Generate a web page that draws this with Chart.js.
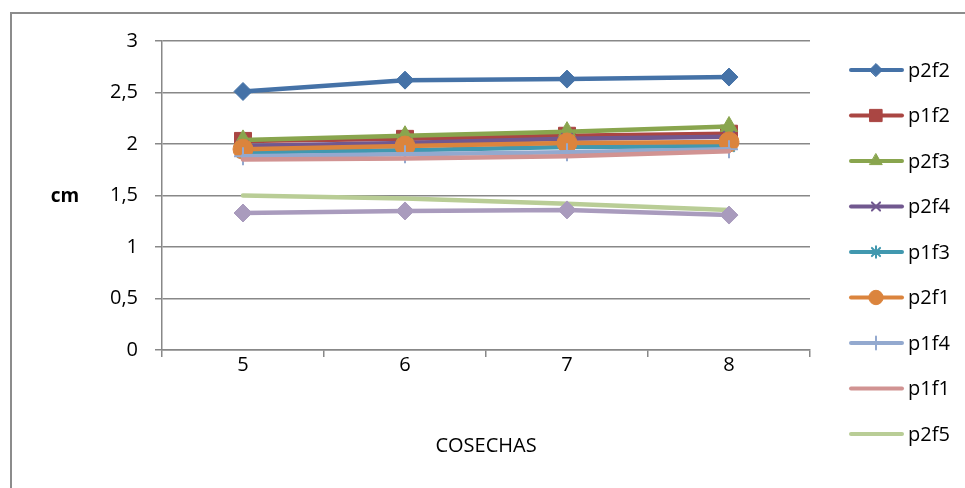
<!DOCTYPE html>
<html>
<head>
<meta charset="utf-8">
<script src="https://cdn.jsdelivr.net/npm/chart.js@4.4.0/dist/chart.umd.min.js"></script>
<style>
html, body { margin: 0; padding: 0; background: #fff; overflow: hidden; }
#frame { position: absolute; left: 10px; top: 12px; width: 2000px; height: 2000px; border-left: 2px solid #8c8c8c; border-top: 2px solid #8c8c8c; }
#wrap { position: absolute; left: 0; top: 0; width: 965px; height: 488px; }
</style>
</head>
<body>
<div id="frame"></div>
<div id="wrap"><canvas id="chart" width="965" height="488"></canvas></div>
<script>
var cosechas = ['5', '6', '7', '8'];
var yTickLabels = ['0', '0,5', '1', '1,5', '2', '2,5', '3'];

var p2f2 = [2.51, 2.62, 2.63, 2.65];
var p1f2 = [2.03, 2.05, 2.08, 2.10];
var p2f3 = [2.04, 2.08, 2.12, 2.17];
var p2f4 = [1.98, 2.01, 2.05, 2.07];
var p1f3 = [1.92, 1.94, 1.97, 1.98];
var p2f1 = [1.95, 1.98, 2.01, 2.02];
var p1f4 = [1.88, 1.90, 1.92, 1.95];
var p1f1 = [1.85, 1.86, 1.88, 1.93];
var p2f5 = [1.50, 1.47, 1.42, 1.36];
var p1f5 = [1.33, 1.35, 1.36, 1.31];

var fontFamily = '"Open Sans", Lato, sans-serif';
var gridColor = '#888888';

function serie(label, data, color, style, radius, pbw) {
    return {
        label: label,
        data: data,
        borderColor: color,
        backgroundColor: color,
        pointBackgroundColor: color,
        pointBorderColor: color,
        borderWidth: 4.5,
        pointStyle: style,
        pointRadius: radius,
        pointHoverRadius: radius,
        pointBorderWidth: pbw,
        borderCapStyle: 'round',
        borderJoinStyle: 'round',
        tension: 0,
        fill: false
    };
}

var datasets = [
    serie('p2f2', p2f2, '#4572A7', 'rectRot', 9, 1),
    serie('p1f2', p1f2, '#AA4643', 'rect', 12, 1),
    serie('p2f3', p2f3, '#89A54E', 'triangle', 10, 1),
    serie('p2f4', p2f4, '#71588F', 'crossRot', 8, 2),
    serie('p1f3', p1f3, '#4198AF', 'star', 8, 2),
    serie('p2f1', p2f1, '#DB843D', 'circle', 10, 1),
    serie('p1f4', p1f4, '#93A9CF', 'cross', 9, 2),
    serie('p1f1', p1f1, '#D19392', false, 0, 0),
    serie('p2f5', p2f5, '#B9CD96', false, 0, 0),
    serie('p1f5', p1f5, '#A99BBD', 'rectRot', 9, 1)
];
// later series on top, like the original
datasets.forEach(function (ds, i) { ds.order = datasets.length - i; });

var extras = {
    id: 'extras',
    afterDraw: function (chart) {
        var ctx = chart.ctx;
        ctx.save();
        ctx.fillStyle = '#000';
        ctx.textAlign = 'center';
        ctx.textBaseline = 'middle';
        ctx.font = 'bold 19px ' + fontFamily;
        ctx.fillText('cm', 65, 197);
        ctx.font = '20px ' + fontFamily;
        var area = chart.chartArea;
        ctx.fillText('COSECHAS', (area.left + area.right) / 2, 446);

        // legend, only the entries that fit (as in the original)
        chart.data.datasets.forEach(function (ds, i) {
            var y = 70 + i * 45.5;
            if (y > 460) return;
            ctx.strokeStyle = ds.borderColor;
            ctx.lineWidth = 4;
            ctx.lineCap = 'round';
            ctx.beginPath();
            ctx.moveTo(851, y);
            ctx.lineTo(902, y);
            ctx.stroke();
            if (ds.pointStyle && ds.pointRadius > 0) {
                ctx.fillStyle = ds.pointBackgroundColor;
                ctx.strokeStyle = ds.pointBorderColor;
                ctx.lineWidth = ds.pointBorderWidth;
                Chart.helpers.drawPoint(ctx, {
                    pointStyle: ds.pointStyle,
                    radius: ds.pointRadius * 0.72,
                    rotation: 0,
                    borderWidth: ds.pointBorderWidth
                }, 876, y);
            }
            ctx.fillStyle = '#000';
            ctx.textAlign = 'left';
            ctx.font = '20px ' + fontFamily;
            ctx.fillText(ds.label, 908, y + 1);
        });
        ctx.restore();
    }
};

var chart = new Chart(document.getElementById('chart'), {
    type: 'line',
    data: { labels: cosechas, datasets: datasets },
    options: {
        responsive: false,
        devicePixelRatio: 1,
        animation: false,
        layout: { padding: { left: 0, top: 41, right: 155, bottom: 0 } },
        plugins: { legend: { display: false }, tooltip: { enabled: false } },
        scales: {
            x: {
                type: 'category',
                offset: true,
                grid: { display: true, drawOnChartArea: false, drawTicks: true, tickLength: 7, offset: true, color: gridColor, lineWidth: 1.5 },
                border: { color: gridColor, width: 1.5 },
                ticks: { color: '#000', font: { family: fontFamily, size: 20, lineHeight: 1 }, padding: -2, maxRotation: 0 },
                afterFit: function (s) { s.height = 138; }
            },
            y: {
                min: 0,
                max: 3,
                grid: { color: gridColor, lineWidth: 1.5, tickLength: 7 },
                border: { color: gridColor, width: 1.5 },
                ticks: {
                    stepSize: 0.5,
                    color: '#000',
                    padding: 17,
                    font: { family: fontFamily, size: 20 },
                    callback: function (v, i) { return yTickLabels[i]; }
                },
                afterFit: function (s) { s.width = 162; }
            }
        }
    },
    plugins: [extras]
});
</script>
</body>
</html>
